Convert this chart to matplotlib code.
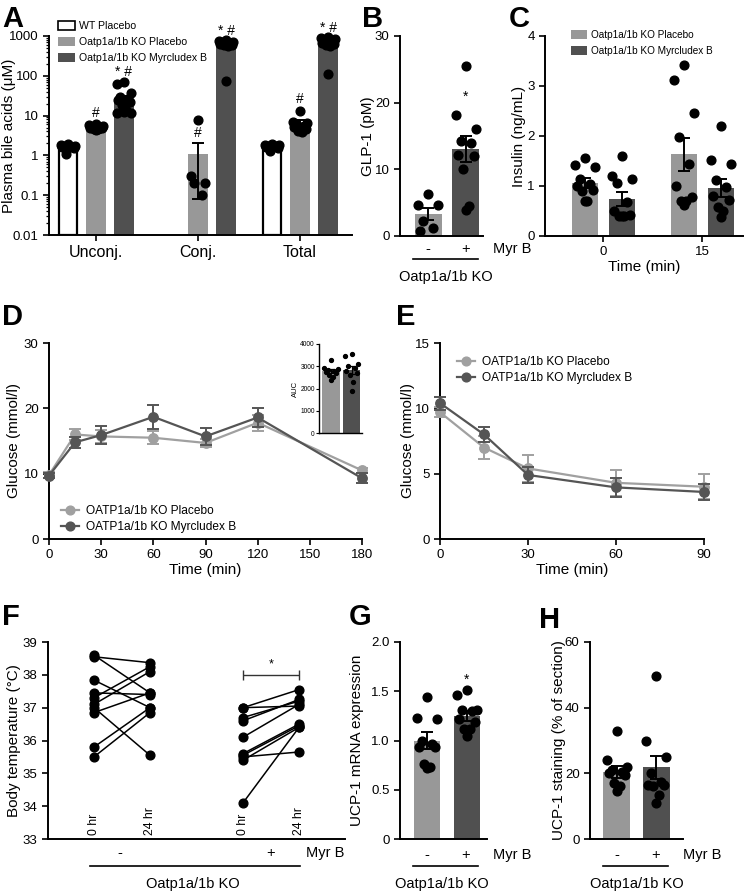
import numpy as np
import matplotlib
matplotlib.use('Agg')
import matplotlib.pyplot as plt
from matplotlib.patches import Patch
from matplotlib.lines import Line2D
from matplotlib.ticker import FixedLocator, FixedFormatter, LogLocator

plt.rcParams['font.family'] = ['Liberation Sans', 'DejaVu Sans']

# ---------------- DATA ----------------
# Panel A (log scale, uM)
a_categories = ['Unconj.', 'Conj.', 'Total']
a_wt_mean = [1.65, np.nan, 1.7]
a_wt_sem = [0.09, np.nan, 0.06]
a_pl_mean = [5.3, 1.06, 7.0]
a_pl_sem = [0.2, 0.98, 0.9]
a_myr_mean = [25.0, 660.0, 660.0]
a_myr_sem = [6.0, 80.0, 85.0]
a_wt_points = [[1.9, 1.8, 1.75, 1.7, 1.65, 1.6, 1.5, 1.1], [], [1.9, 1.8, 1.8, 1.75, 1.7, 1.6, 1.5, 1.3]]
a_pl_points = [[6.2, 5.8, 5.5, 5.3, 5.0, 4.9, 4.8, 4.7, 4.5, 4.4], [7.9, 0.3, 0.2, 0.2, 0.1],
               [13.2, 6.9, 6.5, 6.1, 5.6, 5.2, 4.5, 4.2, 3.9]]
a_myr_points = [[71, 62, 36, 30, 26, 24, 22, 18, 14, 12.4, 11.3, 11.6],
                [800, 760, 720, 690, 660, 640, 610, 580, 550, 74],
                [950, 880, 820, 760, 700, 660, 620, 580, 550, 108]]
a_pl_marks = ['#', '#', '#']
a_myr_marks = ['* #', '* #', '* #']
a_mark_y_pl = [11.7, 3.6, 26]
a_mark_y_myr = [125, 1340, 1600]

# Panel B GLP-1 (pM)
b_pl_points = [6.35, 4.7, 4.6, 2.3, 1.25, 0.75]
b_myr_points = [25.5, 18.1, 16.1, 14.2, 14.0, 12.2, 12.0, 10.1, 4.5, 3.9]
b_mean = [3.3, 13.0]
b_sem = [0.9, 1.95]

# Panel C insulin (ng/mL)
c_times = ['0', '15']
c_pl_mean = [1.06, 1.64]
c_pl_sem = [0.1, 0.33]
c_myr_mean = [0.75, 0.96]
c_myr_sem = [0.14, 0.18]
c_pl_points = [[1.56, 1.43, 1.38, 1.15, 1.05, 1.0, 0.93, 0.9, 0.71, 0.71],
               [3.42, 3.13, 2.45, 1.98, 1.45, 1.0, 0.78, 0.71, 0.70, 0.63]]
c_myr_points = [[1.6, 1.2, 1.15, 1.06, 0.68, 0.51, 0.42, 0.41, 0.40, 0.40],
                [2.2, 1.52, 1.45, 1.13, 0.98, 0.8, 0.73, 0.58, 0.5, 0.39]]

# Panel D OGTT glucose
d_time = [0, 15, 30, 60, 90, 120, 180]
d_pl = [9.8, 16.0, 15.7, 15.5, 14.7, 17.8, 10.5]
d_pl_err = [0.5, 0.8, 1.0, 1.0, 0.6, 1.2, 0.4]
d_myr = [9.7, 14.8, 15.9, 18.7, 15.7, 18.6, 9.3]
d_myr_err = [0.4, 0.8, 1.4, 1.8, 1.3, 1.4, 0.8]
d_auc_mean = [2770, 2830]
d_auc_sem = [85, 170]
d_auc_pl = [3300, 2900, 2880, 2850, 2800, 2750, 2700, 2600, 2500, 2400]
d_auc_myr = [3550, 3450, 3100, 3000, 2900, 2800, 2700, 2600, 2300, 1900]

# Panel E ITT glucose
e_time = [0, 15, 30, 60, 90]
e_pl = [9.7, 7.0, 5.4, 4.3, 4.0]
e_pl_err = [0.4, 0.9, 1.0, 1.0, 0.95]
e_myr = [10.4, 8.0, 4.9, 3.95, 3.6]
e_myr_err = [0.5, 0.6, 0.6, 0.75, 0.6]

# Panel F body temperature pairs
f_labels = ['0 hr', '24 hr', '0 hr', '24 hr']
f_pl_0 = [38.6, 38.55, 37.84, 37.45, 37.3, 37.1, 37.0, 36.85, 35.8, 35.5]
f_pl_24 = [37.45, 38.37, 37.0, 37.4, 38.25, 38.1, 35.55, 37.45, 37.0, 36.85]
f_myr_0 = [37.0, 37.0, 36.7, 36.6, 36.1, 35.6, 35.55, 35.5, 35.4, 34.1]
f_myr_24 = [37.55, 37.05, 37.2, 37.25, 37.1, 36.5, 36.45, 35.65, 36.4, 36.4]

# Panel G UCP-1 mRNA
g_pl_points = [1.44, 1.23, 1.22, 1.0, 0.96, 0.93, 0.93, 0.76, 0.73, 0.72]
g_myr_points = [1.51, 1.46, 1.31, 1.31, 1.3, 1.22, 1.19, 1.12, 1.12, 1.05]
g_mean = [1.0, 1.25]
g_sem = [0.085, 0.05]

# Panel H UCP-1 staining
h_pl_points = [33, 24, 22, 21, 20.5, 20, 19.5, 17, 16, 14.5]
h_myr_points = [49.6, 29.8, 25, 20, 17.5, 16.3, 16.3, 16, 13.5, 11.1]
h_mean = [20.5, 21.8]
h_sem = [1.8, 3.6]

# ---------------- STYLE ----------------
W, H = 747, 892
fig = plt.figure(figsize=(W / 100, H / 100), dpi=100)
LIGHT = '#989898'
DARK = '#505050'
LINE_LIGHT = '#a0a0a0'
LINE_DARK = '#555555'
TICK_FS = 9.5
LAB_FS = 11
MS = 6.3


def px_axes(l, t, r, b):
    return fig.add_axes([l / W, 1 - b / H, (r - l) / W, (b - t) / H])


def style(ax):
    for s in ['top', 'right']:
        ax.spines[s].set_visible(False)
    for s in ['left', 'bottom']:
        ax.spines[s].set_linewidth(1.4)
    ax.tick_params(width=1.2, length=4, labelsize=TICK_FS, colors='black')


def ylabel_px(ax, text, xc, l, r, fs=LAB_FS):
    ax.set_ylabel(text, fontsize=fs)
    ax.yaxis.set_label_coords((xc - l) / (r - l), 0.5)
    ax.yaxis.label.set_va('center')


def ftext(x, y, s, **kw):
    fig.text(x / W, 1 - y / H, s, **kw)


def fline(x0, x1, y, lw=1.2):
    fig.add_artist(Line2D([x0 / W, x1 / W], [1 - y / H, 1 - y / H], color='black', lw=lw,
                          transform=fig.transFigure))


def offsets(n, width):
    pat = np.array([0, -2, 2, -1, 1, -1.6, 1.6, -0.5, 0.5, 0.0, -2, 2])
    return pat[np.arange(n) % len(pat)] * width * 0.19


def letter(x, y, s):
    ftext(x, y, s, fontsize=21, fontweight='bold', va='baseline', ha='left')


def dots(ax, x, vals, width):
    vals = np.asarray(vals, dtype=float)
    ax.plot(x + offsets(len(vals), width), vals, 'o', color='black', ms=MS, zorder=4,
            clip_on=False, mec='black')


def bar_err(ax, x, m, e, color, width, ec=None, bottom=0):
    ax.bar(x, m - bottom, bottom=bottom, width=width, color=color, edgecolor=ec if ec else color,
           linewidth=1.6 if ec else 0, zorder=2)
    ax.errorbar(x, m, yerr=e, fmt='none', ecolor='black', elinewidth=1.4, capsize=4.5,
                capthick=1.4, zorder=5)


# ---------------- PANEL A ----------------
axA = px_axes(49, 36, 352, 235)
style(axA)
axA.set_yscale('log')
axA.set_ylim(0.01, 1000)
axA.set_xlim(-0.46, 2.51)
wA = 0.19
offA = 0.275
for i in range(3):
    if not np.isnan(a_wt_mean[i]):
        bar_err(axA, i - offA, a_wt_mean[i], a_wt_sem[i], 'white', wA * 0.9, ec='black', bottom=0.01)
        dots(axA, i - offA, a_wt_points[i], wA)
    bar_err(axA, i, a_pl_mean[i], a_pl_sem[i], LIGHT, wA, bottom=0.01)
    dots(axA, i, a_pl_points[i], wA)
    bar_err(axA, i + offA, a_myr_mean[i], a_myr_sem[i], DARK, wA, bottom=0.01)
    dots(axA, i + offA, a_myr_points[i], wA)
    axA.text(i, a_mark_y_pl[i], a_pl_marks[i], ha='center', va='center', fontsize=10, clip_on=False)
    axA.text(i + offA, a_mark_y_myr[i], a_myr_marks[i], ha='center', va='center', fontsize=10,
             clip_on=False)
axA.yaxis.set_major_locator(FixedLocator([0.01, 0.1, 1, 10, 100, 1000]))
axA.yaxis.set_major_formatter(FixedFormatter(['0.01', '0.1', '1', '10', '100', '1000']))
axA.yaxis.set_minor_locator(LogLocator(base=10, subs=np.arange(2, 10)))
axA.tick_params(axis='y', which='minor', length=2.5, width=0.9)
axA.set_xticks(range(3))
axA.set_xticklabels(a_categories, fontsize=11.5)
ylabel_px(axA, 'Plasma bile acids (\u03bcM)', 9, 49, 352)
handles = [Patch(facecolor='white', edgecolor='black', linewidth=1.2),
           Patch(facecolor=LIGHT), Patch(facecolor=DARK)]
axA.legend(handles, ['WT Placebo', 'Oatp1a/1b KO Placebo', 'Oatp1a/1b KO Myrcludex B'],
           loc='upper left', bbox_to_anchor=(54 / W, 1 - 17 / H), bbox_transform=fig.transFigure,
           frameon=False, fontsize=7.6, handlelength=1.6, handleheight=0.9, labelspacing=0.55,
           handletextpad=0.4, borderaxespad=0)
letter(2, 27, 'A')

# ---------------- PANEL B ----------------
axB = px_axes(400, 36, 483, 236)
style(axB)
axB.set_ylim(0, 30)
axB.set_yticks([0, 10, 20, 30])
axB.set_xlim(-0.74, 1.45)
axB.set_xticks([])
wB = 0.71
bar_err(axB, 0, b_mean[0], b_sem[0], LIGHT, wB)
bar_err(axB, 1, b_mean[1], b_sem[1], DARK, wB)
dots(axB, 0, b_pl_points, wB)
dots(axB, 1, b_myr_points, wB)
axB.text(1, 20.9, '*', ha='center', va='center', fontsize=10)
ylabel_px(axB, 'GLP-1 (pM)', 368, 400, 483)
ftext(428, 249, '-', ha='center', va='center', fontsize=10.5)
ftext(466, 249, '+', ha='center', va='center', fontsize=10.5)
ftext(493, 249, 'Myr B', ha='left', va='center', fontsize=10.5)
fline(413, 478, 259)
ftext(446, 277, 'Oatp1a/1b KO', ha='center', va='center', fontsize=10.5)
letter(362, 27, 'B')

# ---------------- PANEL C ----------------
axC = px_axes(545, 36, 743, 236)
style(axC)
axC.set_ylim(0, 4)
axC.set_yticks([0, 1, 2, 3, 4])
axC.set_xlim(-0.59, 1.41)
wC = 0.26
offC = 0.187
for i in range(2):
    bar_err(axC, i - offC, c_pl_mean[i], c_pl_sem[i], LIGHT, wC)
    bar_err(axC, i + offC, c_myr_mean[i], c_myr_sem[i], DARK, wC)
    dots(axC, i - offC, c_pl_points[i], wC)
    dots(axC, i + offC, c_myr_points[i], wC)
axC.set_xticks([0, 1])
axC.set_xticklabels(c_times)
axC.set_xlabel('Time (min)', fontsize=LAB_FS, labelpad=1)
ylabel_px(axC, 'Insulin (ng/mL)', 519, 545, 743)
axC.legend([Patch(facecolor=LIGHT), Patch(facecolor=DARK)],
           ['Oatp1a/1b KO Placebo', 'Oatp1a/1b KO Myrcludex B'],
           loc='upper left', bbox_to_anchor=(567 / W, 1 - 26 / H), bbox_transform=fig.transFigure,
           frameon=False, fontsize=7.2, handlelength=1.6, handleheight=0.9, labelspacing=0.6,
           handletextpad=0.4, borderaxespad=0)
letter(509, 27, 'C')

# ---------------- PANEL D ----------------
axD = px_axes(49, 343, 362, 539)
style(axD)
axD.errorbar(d_time, d_pl, yerr=d_pl_err, color=LINE_LIGHT, marker='o', ms=MS + 0.5, lw=1.6,
             capsize=4.5, capthick=1.4, elinewidth=1.4, clip_on=False, zorder=3,
             label='OATP1a/1b KO Placebo')
axD.errorbar(d_time, d_myr, yerr=d_myr_err, color=LINE_DARK, marker='o', ms=MS + 0.5, lw=1.6,
             capsize=4.5, capthick=1.4, elinewidth=1.4, clip_on=False, zorder=4,
             label='OATP1a/1b KO Myrcludex B')
axD.set_xlim(0, 180)
axD.set_ylim(0, 30)
axD.set_xticks([0, 30, 60, 90, 120, 150, 180])
axD.set_yticks([0, 10, 20, 30])
axD.set_xlabel('Time (min)', fontsize=LAB_FS, labelpad=1)
ylabel_px(axD, 'Glucose (mmol/l)', 14, 49, 362)
hD = [Line2D([], [], color=LINE_LIGHT, marker='o', ms=MS, lw=1.6),
      Line2D([], [], color=LINE_DARK, marker='o', ms=MS, lw=1.6)]
axD.legend(hD, ['OATP1a/1b KO Placebo', 'OATP1a/1b KO Myrcludex B'], loc='upper left',
           bbox_to_anchor=(56 / W, 1 - 500 / H), bbox_transform=fig.transFigure, frameon=False,
           fontsize=8.6, handlelength=1.5, labelspacing=0.35, handletextpad=0.6, borderaxespad=0)
letter(2, 325, 'D')

# inset
axI = px_axes(319, 344, 362, 433)
style(axI)
for s in ['left', 'bottom']:
    axI.spines[s].set_linewidth(1.0)
axI.tick_params(labelsize=4.8, length=2, width=0.8, pad=1)
axI.set_ylim(0, 4000)
axI.set_yticks([0, 1000, 2000, 3000, 4000])
axI.set_xlim(-0.59, 1.51)
axI.set_xticks([])
wI = 0.85
axI.bar([0, 1], d_auc_mean, width=wI, color=[LIGHT, DARK], zorder=2)
axI.errorbar([0, 1], d_auc_mean, yerr=d_auc_sem, fmt='none', ecolor='black', elinewidth=0.9,
             capsize=2, capthick=0.9, zorder=5)
axI.plot(0 + offsets(len(d_auc_pl), wI), d_auc_pl, 'o', color='black', ms=2.8, zorder=4, clip_on=False)
axI.plot(1 + offsets(len(d_auc_myr), wI), d_auc_myr, 'o', color='black', ms=2.8, zorder=4, clip_on=False)
ylabel_px(axI, 'AUC', 295, 319, 362, fs=5.5)

# ---------------- PANEL E ----------------
axE = px_axes(440, 343, 704, 539)
style(axE)
axE.errorbar(e_time, e_pl, yerr=e_pl_err, color=LINE_LIGHT, marker='o', ms=MS + 0.5, lw=1.6,
             capsize=4.5, capthick=1.4, elinewidth=1.4, clip_on=False, zorder=3)
axE.errorbar(e_time, e_myr, yerr=e_myr_err, color=LINE_DARK, marker='o', ms=MS + 0.5, lw=1.6,
             capsize=4.5, capthick=1.4, elinewidth=1.4, clip_on=False, zorder=4)
axE.set_xlim(0, 90)
axE.set_ylim(0, 15)
axE.set_xticks([0, 30, 60, 90])
axE.set_yticks([0, 5, 10, 15])
axE.set_xlabel('Time (min)', fontsize=LAB_FS, labelpad=1)
ylabel_px(axE, 'Glucose (mmol/l)', 408, 440, 704)
axE.legend(hD, ['OATP1a/1b KO Placebo', 'OATP1a/1b KO Myrcludex B'], loc='upper left',
           bbox_to_anchor=(452 / W, 1 - 351 / H), bbox_transform=fig.transFigure, frameon=False,
           fontsize=8.6, handlelength=1.5, labelspacing=0.35, handletextpad=0.6, borderaxespad=0)
letter(396, 325, 'E')

# ---------------- PANEL F ----------------
axF = px_axes(48, 642, 345, 839)
style(axF)
axF.set_ylim(33, 39)
axF.set_yticks([33, 34, 35, 36, 37, 38, 39])
fx = [0, 1, 2.66, 3.66]
axF.set_xlim(-0.82, 4.48)
axF.set_xticks([])
for v0, v1 in zip(f_pl_0, f_pl_24):
    axF.plot([fx[0], fx[1]], [v0, v1], '-o', color='black', lw=1.1, ms=MS, zorder=3)
for v0, v1 in zip(f_myr_0, f_myr_24):
    axF.plot([fx[2], fx[3]], [v0, v1], '-o', color='black', lw=1.1, ms=MS, zorder=3)
for x, s in zip(fx, f_labels):
    axF.text(x, 33.12, s, rotation=90, ha='center', va='bottom', fontsize=8.8)
axF.errorbar([(fx[2] + fx[3]) / 2], [38.0], xerr=[(fx[3] - fx[2]) / 2], fmt='none', ecolor='#333333',
             elinewidth=1.0, capsize=3.5, capthick=1.0)
axF.text((fx[2] + fx[3]) / 2, 38.33, '*', ha='center', va='center', fontsize=9)
ylabel_px(axF, 'Body temperature (\u00b0C)', 14, 48, 345)
ftext(120, 853, '-', ha='center', va='center', fontsize=10.5)
ftext(271, 853, '+', ha='center', va='center', fontsize=10.5)
ftext(306, 853, 'Myr B', ha='left', va='center', fontsize=10.5)
fline(90, 300, 866)
ftext(193, 884, 'Oatp1a/1b KO', ha='center', va='center', fontsize=10.5)
letter(2, 625, 'F')

# ---------------- PANEL G ----------------
axG = px_axes(400, 642, 487, 839)
style(axG)
axG.set_ylim(0, 2)
axG.set_yticks([0, 0.5, 1.0, 1.5, 2.0])
axG.set_yticklabels(['0', '0.5', '1.0', '1.5', '2.0'])
axG.set_xlim(-0.675, 1.5)
axG.set_xticks([])
wG = 0.67
bar_err(axG, 0, g_mean[0], g_sem[0], LIGHT, wG)
bar_err(axG, 1, g_mean[1], g_sem[1], DARK, wG)
dots(axG, 0, g_pl_points, wG)
dots(axG, 1, g_myr_points, wG)
axG.text(1, 1.62, '*', ha='center', va='center', fontsize=10)
ylabel_px(axG, 'UCP-1 mRNA expression', 357, 400, 487)
ftext(427, 855, '-', ha='center', va='center', fontsize=10.5)
ftext(466, 855, '+', ha='center', va='center', fontsize=10.5)
ftext(493, 855, 'Myr B', ha='left', va='center', fontsize=10.5)
fline(413, 478, 866)
ftext(442, 884, 'Oatp1a/1b KO', ha='center', va='center', fontsize=10.5)
letter(349, 625, 'G')

# ---------------- PANEL H ----------------
axH = px_axes(590, 642, 683, 839)
style(axH)
axH.set_ylim(0, 60)
axH.set_yticks([0, 20, 40, 60])
axH.set_xlim(-0.69, 1.69)
axH.set_xticks([])
wH = 0.69
bar_err(axH, 0, h_mean[0], h_sem[0], LIGHT, wH)
bar_err(axH, 1, h_mean[1], h_sem[1], DARK, wH)
dots(axH, 0, h_pl_points, wH)
dots(axH, 1, h_myr_points, wH)
ylabel_px(axH, 'UCP-1 staining (% of section)', 559, 590, 683)
ftext(617, 855, '-', ha='center', va='center', fontsize=10.5)
ftext(656, 855, '+', ha='center', va='center', fontsize=10.5)
ftext(683, 855, 'Myr B', ha='left', va='center', fontsize=10.5)
fline(603, 668, 866)
ftext(637, 884, 'Oatp1a/1b KO', ha='center', va='center', fontsize=10.5)
letter(539, 628, 'H')

fig.savefig('out.png', dpi=100)
